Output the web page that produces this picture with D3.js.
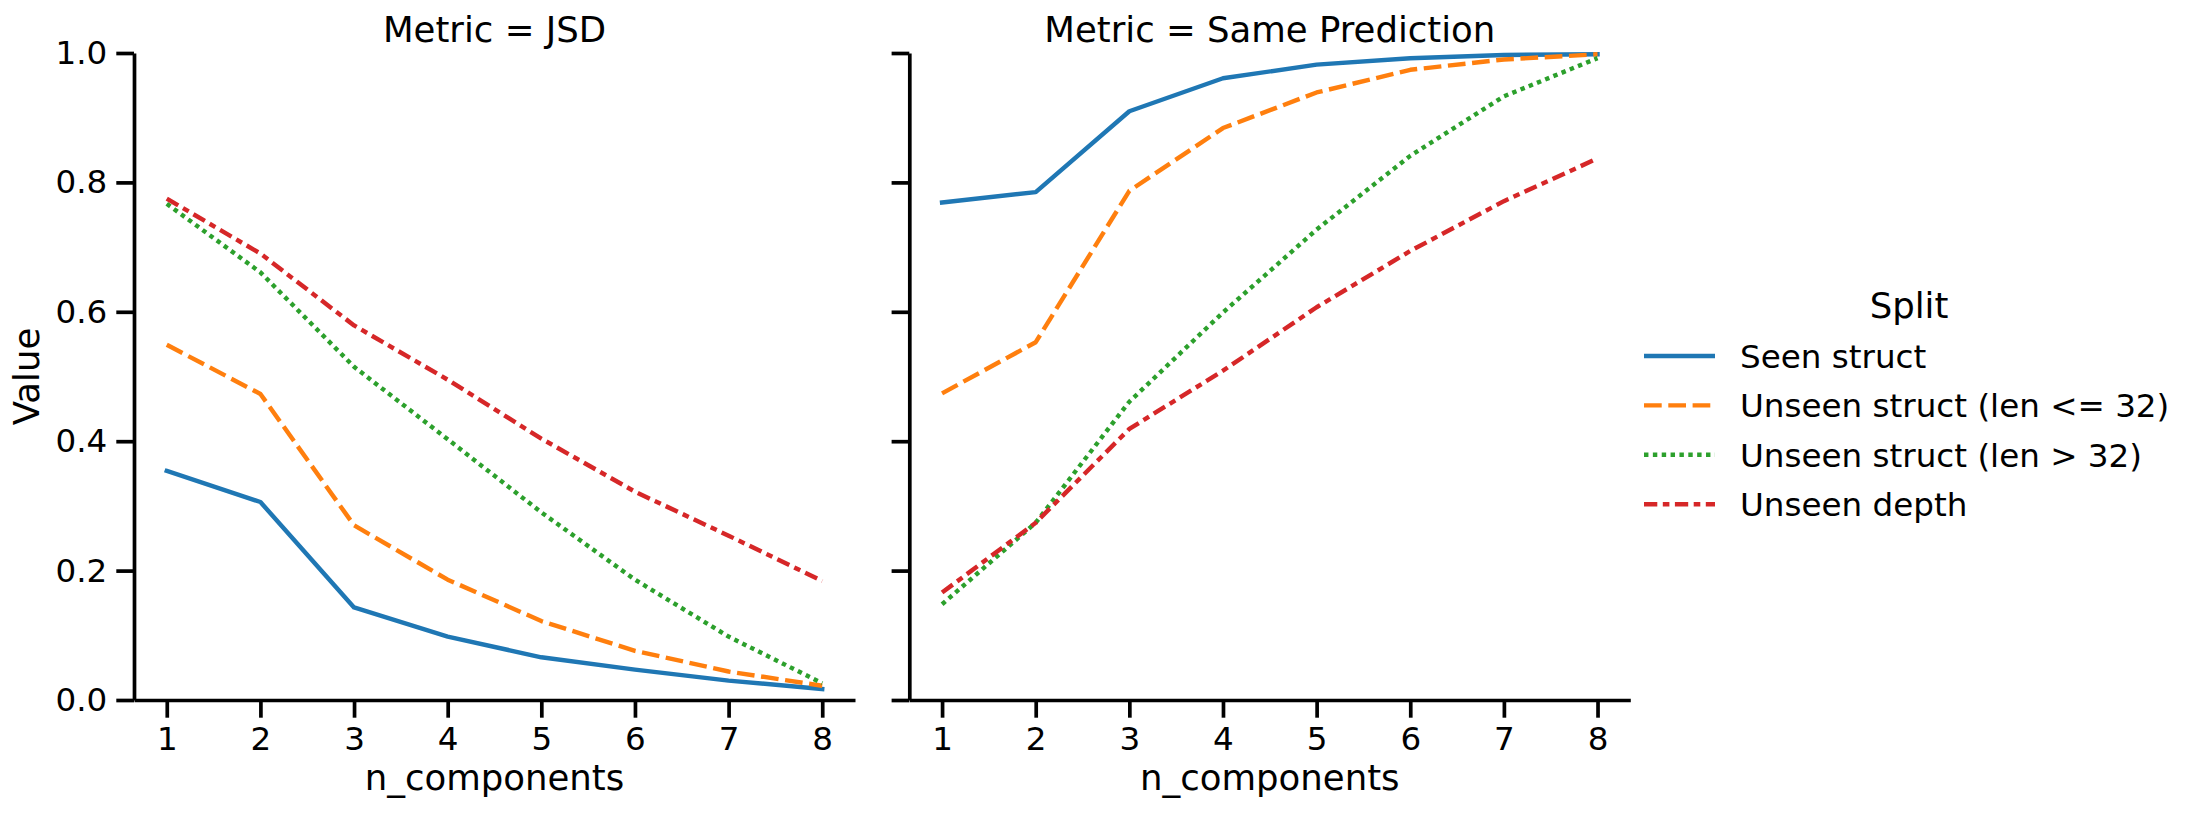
<!DOCTYPE html>
<html><head>
<meta charset="utf-8">
<title>JSD / Same Prediction by n_components</title>
<script src="https://d3js.org/d3.v7.min.js"></script>
<style>
  body { margin: 0; background: #fff; }
  svg text { font-family: "DejaVu Sans", sans-serif; fill: #000; }
  .axis path, .axis line { stroke: #000; stroke-width: 3.7; }
  .axis text { font-size: 32.6px; }
  .label { font-size: 35.5px; }
  .series { fill: none; stroke-width: 4.43; stroke-linejoin: round; }
</style>
</head>
<body>
<svg id="chart" width="2203" height="814"></svg>
<script>
// data
let nComponents = [1, 2, 3, 4, 5, 6, 7, 8];
let splits = ["Seen struct", "Unseen struct (len <= 32)", "Unseen struct (len > 32)", "Unseen depth"];
let metrics = ["JSD", "Same Prediction"];
let yTicks = [0, 0.2, 0.4, 0.6, 0.8, 1.0];

// JSD panel
let jsdSeen      = [0.354, 0.306, 0.143, 0.098, 0.066, 0.047, 0.030, 0.017];
let jsdShort     = [0.549, 0.473, 0.270, 0.186, 0.122, 0.076, 0.044, 0.022];
let jsdLong      = [0.767, 0.661, 0.515, 0.403, 0.290, 0.186, 0.098, 0.026];
let jsdDepth     = [0.775, 0.690, 0.579, 0.495, 0.404, 0.322, 0.254, 0.184];

// Same Prediction panel
let samSeen      = [0.769, 0.785, 0.910, 0.961, 0.982, 0.992, 0.997, 0.998];
let samShort     = [0.474, 0.553, 0.787, 0.884, 0.939, 0.974, 0.990, 0.998];
let samLong      = [0.148, 0.274, 0.461, 0.599, 0.727, 0.841, 0.933, 0.992];
let samDepth     = [0.166, 0.274, 0.419, 0.509, 0.607, 0.694, 0.771, 0.837];

let panelValues = [
  [jsdSeen, jsdShort, jsdLong, jsdDepth],
  [samSeen, samShort, samLong, samDepth]
];

let colors = ["#1f77b4", "#ff7f0e", "#2ca02c", "#d62728"];
let dashes = [null, "17.7,6.6", "4.43,4.43", "13.3,5.5,6.6,5.5"];

// housekeeping
let svg = d3.select("svg#chart");
let panelLeft = [134, 909.3];
let panelWidth = 721;
let plotTop = 53, plotBottom = 700;

let yScale = d3.scaleLinear().domain([0, 1]).range([plotBottom, plotTop]);

metrics.forEach(function(metric, p) {
  let xScale = d3.scaleLinear()
    .domain([0.65, 8.35])
    .range([panelLeft[p], panelLeft[p] + panelWidth]);

  // x axis
  svg.append("g")
    .attr("class", "x axis")
    .attr("transform", "translate(0," + plotBottom + ")")
    .call(d3.axisBottom(xScale).tickValues(nComponents).tickSize(17.7).tickSizeOuter(0).tickPadding(9));

  // y axis (labels only on the first panel)
  let yAxis = d3.axisLeft(yScale).tickValues(yTicks).tickSize(17.7).tickSizeOuter(0).tickPadding(9)
    .tickFormat(p === 0 ? d3.format(".1f") : "");
  svg.append("g")
    .attr("class", "y axis")
    .attr("transform", "translate(" + panelLeft[p] + ",0)")
    .call(yAxis);

  svg.selectAll(".axis text").attr("fill", "#000");

  // the lines
  let line = d3.line()
    .x(function(d, i) { return xScale(nComponents[i]); })
    .y(function(d) { return yScale(d); });

  panelValues[p].forEach(function(vals, s) {
    svg.append("path")
      .attr("class", "series")
      .attr("d", line(vals))
      .attr("stroke", colors[s])
      .attr("stroke-dasharray", dashes[s])
      .attr("stroke-linecap", s === 0 ? "square" : "butt");
  });

  // title and x label
  svg.append("text")
    .attr("class", "label")
    .attr("x", panelLeft[p] + panelWidth / 2)
    .attr("y", 41.7)
    .attr("text-anchor", "middle")
    .text("Metric = " + metric);

  svg.append("text")
    .attr("class", "label")
    .attr("x", panelLeft[p] + panelWidth / 2)
    .attr("y", 790)
    .attr("text-anchor", "middle")
    .text("n_components");
});

// y label
svg.append("text")
  .attr("class", "label")
  .attr("transform", "translate(39," + ((plotTop + plotBottom) / 2) + ") rotate(-90)")
  .attr("text-anchor", "middle")
  .text("Value");

// legend
let legend = svg.append("g").attr("transform", "translate(1644,0)");
legend.append("text")
  .attr("class", "label")
  .attr("x", 265)
  .attr("y", 318)
  .attr("text-anchor", "middle")
  .text("Split");

splits.forEach(function(name, s) {
  let ly = 356 + s * 49.4;
  legend.append("line")
    .attr("x1", 0).attr("x2", 71)
    .attr("y1", ly).attr("y2", ly)
    .attr("stroke", colors[s])
    .attr("stroke-width", 4.43)
    .attr("stroke-dasharray", dashes[s]);
  legend.append("text")
    .attr("x", 96)
    .attr("y", ly + 12)
    .style("font-size", "32.6px")
    .text(name);
});
</script>
</body>
</html>
